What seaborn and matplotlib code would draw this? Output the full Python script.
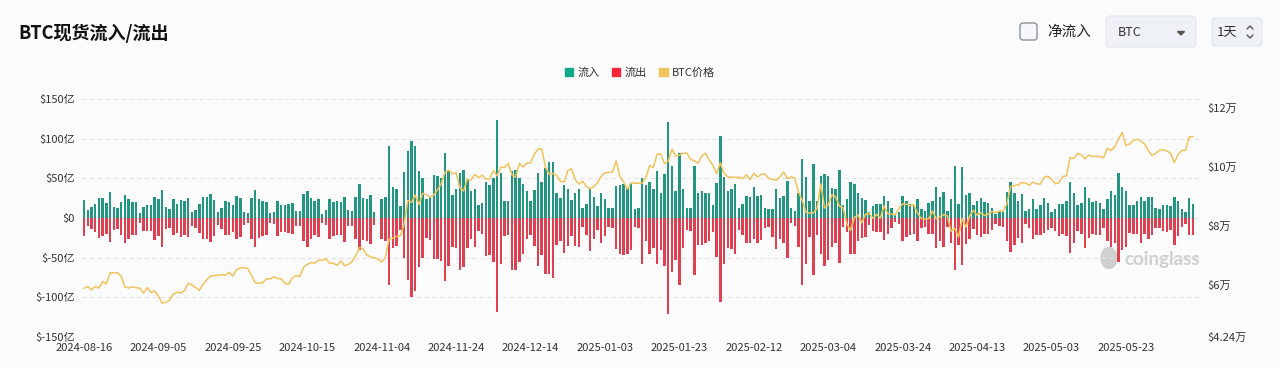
import numpy as np
import pandas as pd
import matplotlib
matplotlib.use('Agg')
import matplotlib.pyplot as plt
import seaborn as sns
from matplotlib.patches import Patch, FancyBboxPatch, Polygon, Ellipse
from matplotlib.lines import Line2D
from matplotlib.transforms import IdentityTransform

# daily spot flows (亿 USD), 2024-08-16 .. 2025-06-10
start_date = '2024-08-16'

inflow = [
    23, 10.5, 14, 18, 25, 25, 18.5, 33, 14, 12,
    20, 29, 24, 20, 20, 6, 14, 17, 17, 27,
    24, 35, 14, 11, 24, 18, 23, 22, 25, 8,
    10.5, 18, 26, 27, 30, 23, 8, 13, 21, 20,
    17, 28, 25, 7.5, 6, 25, 35, 24, 22, 20,
    6, 7, 21, 16, 16, 18, 19, 9, 9, 30,
    34, 25, 22, 24, 5.5, 10, 24, 20, 21, 20,
    27, 10.5, 9, 26, 43, 25, 24, 29, 7.5, 0.5,
    24, 27, 91, 39, 36,
    15, 58, 85, 97, 91, 59, 50, 24, 26, 54,
    53, 50, 82, 60, 29, 36, 57, 60, 49, 34,
    37, 16, 19, 45, 41, 50, 124, 57, 21, 21,
    59, 61, 50, 43, 34, 22, 35, 57, 45, 63,
    70, 70, 31,
    25, 41, 36, 23, 31, 36, 13, 18, 38, 27,
    15, 32, 24, 12, 12, 40, 41, 43, 39, 43,
    11, 12, 50, 41, 46, 36, 59, 32, 56, 121,
    66, 34, 82, 36, 13, 13, 66, 32, 34, 32,
    31, 16, 44,
    103, 52, 34, 36, 43, 13, 18, 28, 27, 39,
    28, 29, 13, 11, 11, 37, 25, 28, 47, 13,
    9, 31, 74, 52, 21, 68, 21, 53, 55, 53,
    38, 36, 60, 16, 24, 45, 43, 32, 25, 23,
    8, 15, 18,
    18, 28, 22, 12, 4, 8, 28, 21, 18, 17,
    24, 11, 9, 19, 21, 39, 27, 33, 9, 24,
    66, 18, 64, 29, 32, 17, 21, 25, 20, 19,
    13, 5, 8, 8, 33, 46, 32, 21, 30, 9,
    11, 24, 11,
    17, 25, 19, 8, 11, 18, 18, 21, 46, 32,
    17, 19, 39, 25, 20, 22, 19, 11, 24, 34,
    29, 57, 39, 34, 17, 17, 21, 27, 21, 27,
    26, 12, 11, 17, 17, 15, 26, 21, 11, 8,
    25, 18,
]

outflow = [
    23, 10.5, 14, 18, 25, 23, 20, 30, 15.5, 14,
    21, 32, 26, 21, 22, 6, 16, 17, 17, 28,
    23, 37, 14, 12, 22, 19, 24, 22, 24, 10.5,
    12, 19, 26, 26, 30, 23, 8.5, 14, 21, 22,
    18, 27, 24, 8.5, 6, 26, 36, 25, 23, 22,
    6, 7, 23, 18, 18, 19, 20, 10, 10.5, 29,
    36, 26, 22, 24, 6, 9, 26, 23, 22, 22,
    30, 10.5, 10, 27, 40, 28, 29, 33, 8.5, 0.5,
    26, 29, 84, 38, 35,
    15, 51, 78, 100, 92, 62, 50, 25, 28, 52,
    52, 54, 79, 61, 37, 38, 66, 62, 38, 26,
    37, 16, 20, 48, 47, 55, 118, 58, 23, 22,
    66, 65, 55, 45, 27, 22, 35, 60, 47, 71,
    71, 76, 34,
    29, 44, 35, 23, 35, 37, 11, 21, 41, 26,
    15, 32, 23, 11, 13, 39, 45, 47, 46, 40,
    11, 13, 58, 29, 45, 38, 58, 40, 60, 121,
    68, 53, 84, 38, 15, 16, 72, 34, 34, 32,
    29, 18, 49,
    106, 58, 38, 39, 45, 15, 21, 31, 31, 26,
    31, 28, 13, 11, 24, 39, 26, 31, 50, 6,
    10, 36, 85, 58, 24, 72, 21, 45, 60, 53,
    36, 32, 57, 11, 18, 45, 45, 29, 25, 24,
    9, 17, 18,
    18, 28, 20, 13, 5, 8, 29, 24, 22, 20,
    29, 12, 11, 20, 20, 38, 29, 36, 11, 32,
    65, 34, 59, 33, 27, 14, 22, 24, 20, 20,
    15, 8, 10, 11, 29, 43, 34, 25, 32, 8,
    13, 26, 21,
    21, 19, 15, 13, 16, 23, 20, 23, 44, 32,
    17, 20, 38, 25, 20, 22, 21, 13, 29, 37,
    32, 55, 40, 37, 19, 20, 20, 31, 20, 27,
    21, 13, 13, 17, 18, 15, 34, 23, 11, 8,
    22, 22,
]

# BTC daily close (USD)
price = [
    # Aug 16-31
    58900, 59500, 58400, 59500, 59000, 61200, 60400, 64100, 64200, 64200,
    62900, 59400, 59000, 59400, 59100, 58900,
    # Sep
    57300, 59100, 57500, 58000, 56200, 53900, 54200, 54900, 57000, 57600,
    57300, 58100, 60600, 60000, 59200, 58200, 60300, 61800, 63000, 63200,
    63300, 63600, 63300, 64300, 63100, 65200, 65800, 65900, 65600, 63300,
    # Oct
    60800, 60600, 60800, 62100, 62100, 62800, 62200, 62100, 60600, 60300,
    62400, 63200, 62900, 66000, 67000, 67600, 67400, 68400, 68400, 69000,
    67400, 67400, 66700, 68200, 66600, 67000, 67900, 69900, 72700, 72300,
    70200,
    # Nov
    69500, 69300, 68700, 67800, 69400, 75600, 75900, 76500, 76700, 80500,
    88700, 88000, 90500, 87300, 91100, 90600, 89800, 90500, 92300, 94300,
    98300, 98900, 97700, 98000, 93000, 91900, 95900, 95600, 97500, 96400,
    # Dec
    97200, 95900, 96000, 98800, 97000, 99900, 99900, 101200, 97300, 96600,
    101200, 100000, 101400, 101400, 104300, 106100, 106100, 100000, 97500, 97800,
    97200, 95200, 94900, 98700, 99400, 95800, 94200, 95200, 93500, 92600,
    93400,
    # Jan
    94600, 96900, 98100, 98200, 98300, 102100, 96900, 95000, 92500, 94700,
    94500, 94500, 94500, 96500, 100500, 99800, 104400, 104400, 101100, 102000,
    106100, 103700, 104000, 104700, 104700, 102600, 102100, 101300, 103700, 104700,
    102400,
    # Feb
    100600, 97700, 101400, 97900, 96600, 96600, 96500, 96500, 96100, 97400,
    95700, 97900, 96600, 97500, 97600, 96100, 95800, 95500, 96600, 98300,
    96100, 96600, 96300, 91500, 88700, 84700, 84400, 84400,
    # Mar
    86000, 94300, 86100, 87200, 90600, 89900, 86700, 86200, 80700, 78500,
    82900, 83700, 81100, 84000, 84300, 82600, 84000, 82700, 86800, 84200,
    84000, 83800, 86100, 87500, 87400, 86900, 87200, 84400, 82600, 82300,
    82500,
    # Apr
    85100, 82500, 83100, 83800, 83500, 78200, 79200, 76300, 82600, 79600,
    83400, 85300, 83700, 84500, 83600, 84000, 84900, 84500, 85100, 85100,
    87500, 93400, 93700, 93900, 94700, 94600, 93800, 94900, 94300, 94200,
    # May
    96500, 96900, 95900, 94300, 94700, 96800, 97000, 103200, 102900, 104600,
    104100, 102800, 104100, 103500, 103700, 103500, 103200, 106400, 105600, 106800,
    109600, 111700, 107300, 107800, 109000, 109400, 108900, 107800, 105600, 103900,
    104600,
    # Jun 1-10
    105700, 105800, 105400, 104700, 101500, 104300, 105600, 105700, 110200, 110300,
]

left_ticks = [-150, -100, -50, 0, 50, 100, 150]
left_labels = ['$-150亿', '$-100亿', '$-50亿', '$0', '$50亿', '$100亿', '$150亿']
right_ticks = [42400, 60000, 80000, 100000, 120000]
right_labels = ['$4.24万', '$6万', '$8万', '$10万', '$12万']

GREEN = '#10a98b'
RED = '#f7263d'
GOLD = '#f0c35c'
BG = '#fbfbfb'
TXT = '#333333'

sns.set_theme(style='white')
plt.rcParams['font.family'] = ['Noto Sans CJK SC', 'DejaVu Sans']

n = len(inflow)
dates = pd.date_range(start_date, periods=n, freq='D')
day = np.arange(n)

flows = pd.DataFrame({
    'day': np.concatenate([day, day]),
    'value': inflow + [-v for v in outflow],
    'kind': ['流入'] * n + ['流出'] * n,
})

fig = plt.figure(figsize=(12.8, 3.68), dpi=100, facecolor=BG)
H = 368
px = IdentityTransform()

# watermark (behind the bars)
fig.text(1124, H - 260, 'coinglass', transform=px, fontsize=13.5,
         fontweight='bold', color='#cfcfcf', va='center', ha='left',
         family=['Lato', 'DejaVu Sans'], zorder=-1)
fig.add_artist(Ellipse((1109, H - 258), 16, 21, transform=px,
                       color='#cfcfcf', zorder=-1))

ax = fig.add_axes([81.7 / 1280, 31 / H, (1200 - 81.7) / 1280, 238 / H])
ax.patch.set_alpha(0)

sns.barplot(data=flows, x='day', y='value', hue='kind',
            palette={'流入': GREEN, '流出': RED}, native_scale=True,
            dodge=False, width=0.66, errorbar=None, legend=False,
            linewidth=0, ax=ax)

ax.set_xlim(-0.62, 299.9)
ax.set_ylim(-150, 150)
ax.set_yticks(left_ticks)
ax.set_yticklabels(left_labels)
tick_idx = day[::20][:15]
ax.set_xticks(tick_idx)
ax.set_xticklabels([dates[i].strftime('%Y-%m-%d') for i in tick_idx])
ax.set_xlabel('')
ax.set_ylabel('')
ax.yaxis.grid(True, color='#e4e4e4', linestyle=(0, (4, 3)), linewidth=0.8)
ax.xaxis.grid(False)
ax.set_axisbelow(True)
ax.tick_params(axis='both', length=0, labelsize=8, labelcolor=TXT)
ax.tick_params(axis='y', pad=5)
ax.tick_params(axis='x', pad=4)

ax2 = ax.twinx()
sns.lineplot(x=day, y=price, color=GOLD, linewidth=1.1, ax=ax2)
ax2.set_ylim(42400, 123050)
ax2.set_yticks(right_ticks)
ax2.set_yticklabels(right_labels)
ax2.set_ylabel('')
ax2.tick_params(axis='y', length=0, labelsize=8, labelcolor=TXT, pad=5)
ax2.grid(False)

for a in (ax, ax2):
    for s in a.spines.values():
        s.set_visible(False)

# title
fig.text(18 / 1280, 1 - 33 / H, 'BTC现货流入/流出', fontsize=13,
         fontweight='bold', color='#111111', va='center', ha='left')

# legend
handles = [Patch(color=GREEN, label='流入'), Patch(color=RED, label='流出'),
           Patch(color=GOLD, label='BTC价格')]
fig.legend(handles=handles, loc='center', bbox_to_anchor=(0.5, 1 - 73 / H),
           ncol=3, frameon=False, fontsize=8, handlelength=0.75,
           handleheight=0.75, handletextpad=0.4, columnspacing=1.1,
           labelcolor=TXT)

# top-right controls (pixel coords)
fig.add_artist(FancyBboxPatch((1020, H - 40), 17, 17,
                              boxstyle='round,pad=0,rounding_size=3',
                              transform=px, facecolor='#f6f7f9',
                              edgecolor='#8c9199', linewidth=1))
fig.text(1047, H - 32, '净流入', transform=px, fontsize=10.5,
         color='#222222', va='center', ha='left')
fig.add_artist(FancyBboxPatch((1106, H - 47), 90, 31,
                              boxstyle='round,pad=0,rounding_size=4',
                              transform=px, facecolor='#eef1f5',
                              edgecolor='#e2e6eb', linewidth=0.8))
fig.text(1118, H - 32, 'BTC', transform=px, fontsize=9, color='#333333',
         va='center', ha='left')
fig.add_artist(Polygon([[1177.5, H - 31.5], [1184.5, H - 31.5], [1181, H - 35]],
                       closed=True, transform=px, color='#555555'))
fig.add_artist(FancyBboxPatch((1212, H - 46), 50, 28,
                              boxstyle='round,pad=0,rounding_size=4',
                              transform=px, facecolor='#eef1f5',
                              edgecolor='#e2e6eb', linewidth=0.8))
fig.text(1217, H - 32, '1天', transform=px, fontsize=9.5, color='#333333',
         va='center', ha='left')
fig.add_artist(Line2D([1247, 1250, 1253], [H - 29, H - 26, H - 29],
                      transform=px, color='#555555', linewidth=1))
fig.add_artist(Line2D([1247, 1250, 1253], [H - 35, H - 38, H - 35],
                      transform=px, color='#555555', linewidth=1))

fig.savefig('out.png', dpi=100, facecolor=BG)
